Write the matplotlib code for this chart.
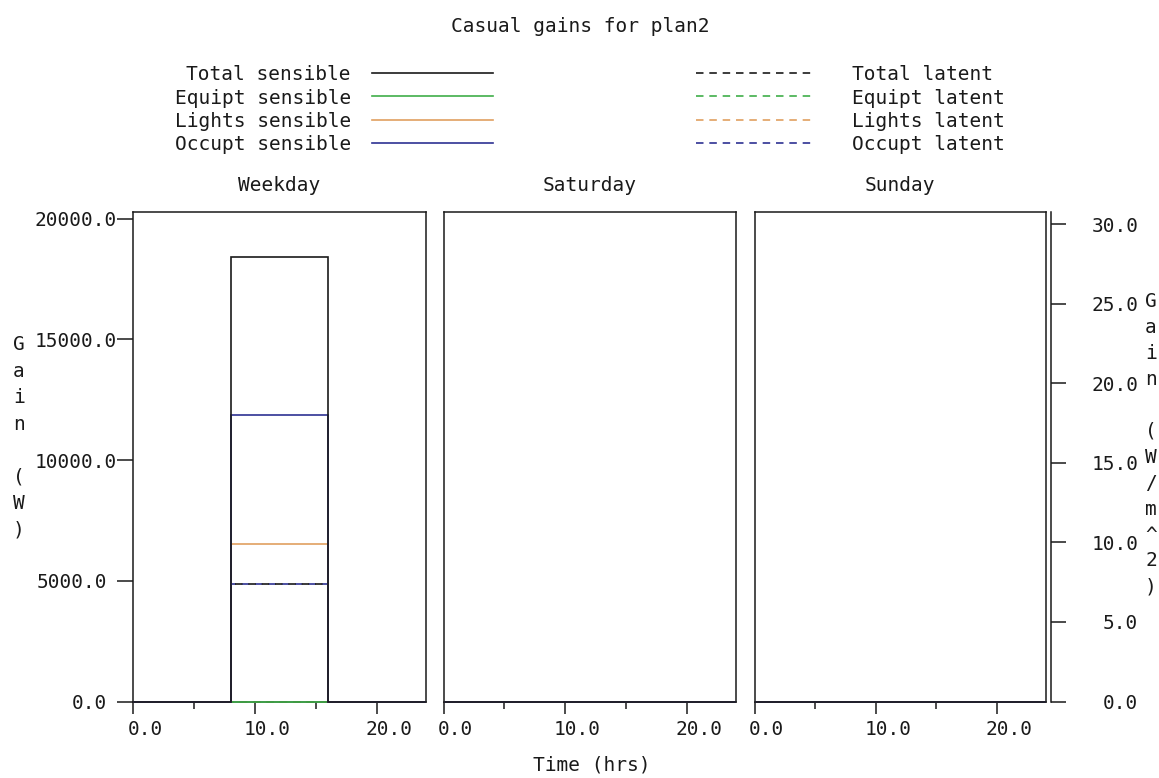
import matplotlib.pyplot as plt
import matplotlib.transforms as mtransforms
from matplotlib.lines import Line2D
import numpy as np

# period edges (hrs) and casual gain values (W) per period
edges = [0, 8, 16, 24]
days = ["Weekday", "Saturday", "Sunday"]

weekday_total_sens = [0, 18410, 0]
weekday_equip_sens = [0, 0, 0]
weekday_light_sens = [0, 6540, 0]
weekday_occup_sens = [0, 11870, 0]
weekday_total_lat = [0, 4870, 0]
weekday_equip_lat = [0, 0, 0]
weekday_light_lat = [0, 0, 0]
weekday_occup_lat = [0, 4870, 0]

saturday_total_sens = [0, 0, 0]
saturday_equip_sens = [0, 0, 0]
saturday_light_sens = [0, 0, 0]
saturday_occup_sens = [0, 0, 0]
saturday_total_lat = [0, 0, 0]
saturday_equip_lat = [0, 0, 0]
saturday_light_lat = [0, 0, 0]
saturday_occup_lat = [0, 0, 0]

sunday_total_sens = [0, 0, 0]
sunday_equip_sens = [0, 0, 0]
sunday_light_sens = [0, 0, 0]
sunday_occup_sens = [0, 0, 0]
sunday_total_lat = [0, 0, 0]
sunday_equip_lat = [0, 0, 0]
sunday_light_lat = [0, 0, 0]
sunday_occup_lat = [0, 0, 0]

sens_labels = ["Total sensible", "Equipt sensible", "Lights sensible", "Occupt sensible"]
lat_labels = ["Total latent", "Equipt latent", "Lights latent", "Occupt latent"]

left_ticks = [0, 5000, 10000, 15000, 20000]
right_ticks = [0, 5, 10, 15, 20, 25, 30]
x_major = [0, 10, 20]
x_minor = [5, 15]

W, H = 1159, 778
BLACK = "#1a1a1a"
GREEN = "#3fae49"
ORANGE = "#e0a060"
BLUE = "#2e3192"
colors = [BLACK, GREEN, ORANGE, BLUE]
LW = 1.2
DASH = (4.5, 3.5)

plt.rcParams["font.family"] = ["DejaVu Sans Mono"]
plt.rcParams["font.size"] = 14
plt.rcParams["text.color"] = BLACK


def box(x0, x1, ytop, ybot):
    return [x0 / W, 1 - ybot / H, (x1 - x0) / W, (ybot - ytop) / H]


def stacked(x, y0, step, text):
    for i, ch in enumerate(text):
        fig.text(x / W, 1 - (y0 + i * step) / H, ch,
                 ha="center", va="center")


fig = plt.figure(figsize=(W / 100, H / 100), dpi=100)

ytop, ybot = 211.7, 701.5
panel_x = [(133, 425.5), (443.5, 736), (754.5, 1045.5)]
ymax = 20290

data = {
    "Weekday": [
        [weekday_total_sens, weekday_equip_sens, weekday_light_sens, weekday_occup_sens],
        [weekday_total_lat, weekday_equip_lat, weekday_light_lat, weekday_occup_lat]],
    "Saturday": [
        [saturday_total_sens, saturday_equip_sens, saturday_light_sens, saturday_occup_sens],
        [saturday_total_lat, saturday_equip_lat, saturday_light_lat, saturday_occup_lat]],
    "Sunday": [
        [sunday_total_sens, sunday_equip_sens, sunday_light_sens, sunday_occup_sens],
        [sunday_total_lat, sunday_equip_lat, sunday_light_lat, sunday_occup_lat]],
}

shift = mtransforms.ScaledTranslation(12 / 100, 0, fig.dpi_scale_trans)
shift_short = mtransforms.ScaledTranslation(-10 / 100, 0, fig.dpi_scale_trans)

for i, (day, (x0, x1)) in enumerate(zip(days, panel_x)):
    ax = fig.add_axes(box(x0, x1, ytop, ybot))
    sens, lat = data[day]

    # latent first (dashed), occupant under total
    for k in [1, 2, 3, 0]:
        offset = 4.0 if k == 0 else 0.0
        ax.stairs(lat[k], edges, color=colors[k], lw=LW,
                  linestyle=(offset, DASH), clip_on=False, zorder=2)
    # sensible (solid), total on top
    for k in [1, 2, 3, 0]:
        ax.stairs(sens[k], edges, color=colors[k], lw=LW,
                  clip_on=False, zorder=3 + (k == 0))

    ax.set_xlim(0, 24)
    ax.set_ylim(0, ymax)
    ax.set_xticks(x_major)
    ax.set_xticks(x_minor, minor=True)
    ax.set_xticklabels([f"{v:.1f}" for v in x_major])
    ax.tick_params(axis="x", which="major", length=8.6, width=1.1,
                   direction="out", pad=5, colors=BLACK)
    ax.tick_params(axis="x", which="minor", length=5, width=1.1,
                   direction="out", colors=BLACK)
    for lab in ax.get_xticklabels():
        lab.set_transform(lab.get_transform() + shift)

    if i == 0:
        ax.set_yticks(left_ticks)
        ax.set_yticklabels([f"{v:.1f}" for v in left_ticks])
        ax.tick_params(axis="y", length=11.5, width=1.1,
                       direction="out", pad=0, colors=BLACK)
        for lab in ax.get_yticklabels():
            if len(lab.get_text()) < 7:
                lab.set_transform(lab.get_transform() + shift_short)
    else:
        ax.set_yticks([])

    for sp in ax.spines.values():
        sp.set_linewidth(1.1)
        sp.set_color(BLACK)
    ax.set_title(day, pad=15, fontsize=14)

# right axis in W/m^2
axr = fig.add_axes(box(1050.7, 1050.8, ytop, ybot))
axr.set_ylim(0, 30.8)
axr.set_xticks([])
axr.yaxis.tick_right()
axr.set_yticks(right_ticks)
axr.set_yticklabels([f"{v:.1f}" for v in right_ticks])
axr.tick_params(axis="y", length=11, width=1.1, direction="out",
                pad=52, colors=BLACK)
for lab in axr.get_yticklabels():
    lab.set_horizontalalignment("right")
for name in ["left", "top", "bottom"]:
    axr.spines[name].set_visible(False)
axr.spines["right"].set_linewidth(1.1)
axr.spines["right"].set_color(BLACK)
axr.patch.set_visible(False)

# axis labels
stacked(19, 345, 26.4, "Gain (W)")
stacked(1151, 302, 25.9, "Gain (W/m^2)")
fig.text(592 / W, 1 - 765 / H, "Time (hrs)", ha="center", va="center")

# title
fig.text(580 / W, 1 - 26 / H, "Casual gains for plan2", ha="center", va="center")

# legend
rows = [73, 96, 119.5, 142.5]
for k, y in enumerate(rows):
    yf = 1 - y / H
    fig.text(351 / W, yf, sens_labels[k], ha="right", va="center_baseline")
    fig.add_artist(Line2D([372 / W, 493 / W], [yf, yf], color=colors[k],
                          lw=LW, transform=fig.transFigure))
    fig.text(852 / W, yf, lat_labels[k], ha="left", va="center_baseline")
    ln = Line2D([696 / W, 811 / W], [yf, yf], color=colors[k],
                lw=LW, transform=fig.transFigure)
    ln.set_dashes(DASH)
    fig.add_artist(ln)

fig.savefig("out.png", dpi=100)
